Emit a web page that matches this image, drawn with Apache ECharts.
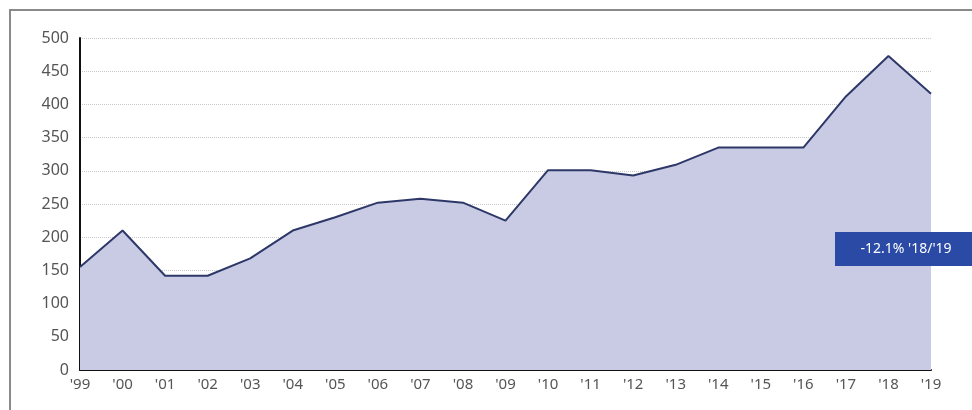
<!DOCTYPE html>
<html>
<head>
<meta charset="utf-8">
<script src="https://cdn.jsdelivr.net/npm/echarts@6/dist/echarts.min.js"></script>
<style>
html,body{margin:0;padding:0;background:#fff;}
#c{width:972px;height:410px;}
</style>
</head>
<body>
<div id="c"></div>
<script>
const categories = ["'99","'00","'01","'02","'03","'04","'05","'06","'07","'08","'09","'10","'11","'12","'13","'14","'15","'16","'17","'18","'19"];
const values = [155,210,142,142,168,210,230,252,258,252,225,301,301,293,309,335,335,335,412,473,416];
const annotationText = "-12.1% '18/'19";

const chart = echarts.init(document.getElementById('c'));
const font = "'Noto Sans', sans-serif";
chart.setOption({
  animation: false,
  grid: {left: 80, right: 41, top: 38, bottom: 40},
  xAxis: {
    type: 'category',
    data: categories,
    boundaryGap: false,
    axisLine: {lineStyle: {color: '#111', width: 2}},
    axisTick: {show: false},
    axisLabel: {color: '#555', fontSize: 15, fontFamily: font, margin: 7}
  },
  yAxis: {
    type: 'value',
    min: 0, max: 500, interval: 50,
    axisLine: {show: true, lineStyle: {color: '#111', width: 2}},
    axisTick: {show: false},
    axisLabel: {color: '#555', fontSize: 16, fontFamily: font, margin: 11},
    splitLine: {lineStyle: {color: '#c8c8c8', type: 'dotted', width: 1}}
  },
  series: [{
    type: 'line',
    data: values,
    symbol: 'none',
    lineStyle: {color: '#2e3868', width: 2},
    areaStyle: {color: '#c9cbe5', opacity: 1},
    z: 3
  }],
  graphic: [
    {type: 'rect', shape: {x: 10, y: 10, width: 970, height: 410}, style: {fill: 'none', stroke: '#8a8a8a', lineWidth: 2}, z: 0},
    {type: 'rect', shape: {x: 835, y: 232, width: 140, height: 34}, style: {fill: '#2b4aa6'}, z: 10},
    {type: 'text', x: 906, y: 249, style: {text: annotationText, fill: '#fff', fontSize: 14, fontFamily: font, align: 'center', verticalAlign: 'middle'}, z: 11}
  ]
});
</script>
</body>
</html>
